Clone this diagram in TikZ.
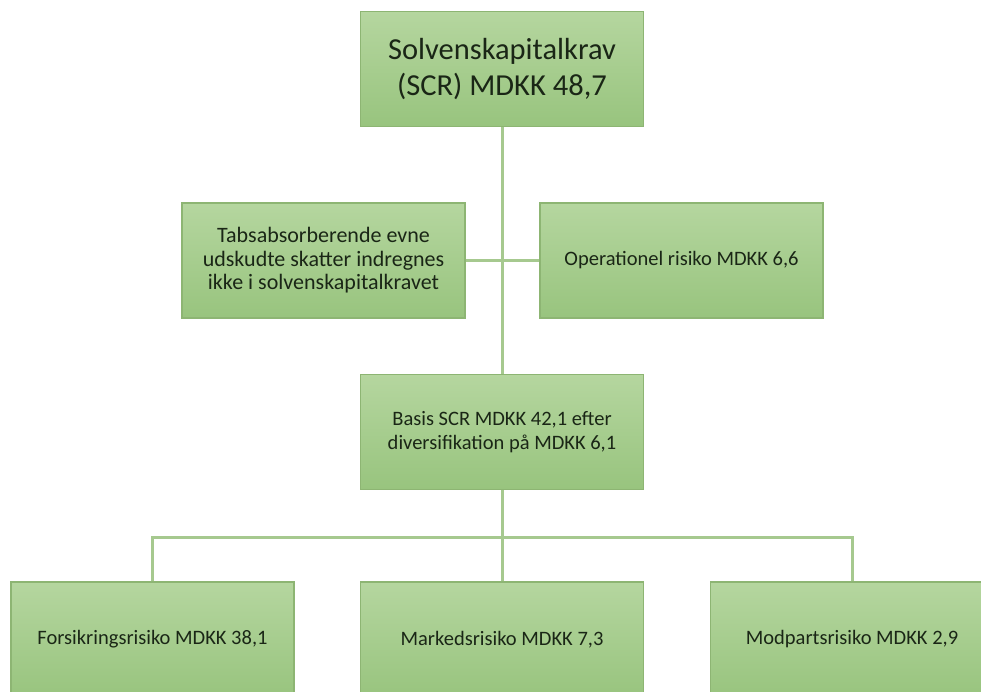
\documentclass[tikz,border=0pt]{standalone}
\usepackage{fontspec}
\setmainfont{Carlito}
\definecolor{boxtop}{HTML}{B5D69F}
\definecolor{boxbot}{HTML}{98C47E}
\definecolor{boxline}{HTML}{8DB573}
\definecolor{conn}{HTML}{A6C98F}
\definecolor{txt}{HTML}{1A2616}
\begin{document}
\begin{tikzpicture}[x=1pt,y=-1pt,
  box/.style={draw=boxline, line width=1.2pt, top color=boxtop, bottom color=boxbot,
    minimum width=283pt, minimum height=115pt, inner sep=2pt, align=center,
    text=txt, font=\fontsize{20.5}{24}\selectfont},
  tabsbox/.style={box, font=\fontsize{22}{23.5}\selectfont},
  bigbox/.style={box, font=\fontsize{30.5}{36}\selectfont},
  link/.style={draw=conn, line width=3pt}]
\useasboundingbox (0,0) rectangle (981,692);
\clip (0,0) rectangle (981,692);
\fill[white] (0,0) rectangle (981,692);
\node[bigbox] (top) at (502,69) {Solvenskapitalkrav\\(SCR) MDKK 48,7};
\node[tabsbox] (tabs) at (323.5,260.5) {Tabsabsorberende evne\\udskudte skatter indregnes\\ikke i solvenskapitalkravet};
\node[box] (oper) at (681.5,260.5) {Operationel risiko MDKK 6,6};
\node[box] (basis) at (502,432) {Basis SCR MDKK 42,1 efter\\diversifikation på MDKK 6,1};
\node[box] (fors) at (152.5,639.5) {Forsikringsrisiko MDKK 38,1};
\node[box] (mark) at (502,639.5) {Markedsrisiko MDKK 7,3};
\node[box] (modp) at (852,639.5) {Modpartsrisiko MDKK 2,9};
\coordinate (busl) at (152.5,537);
\path[link] (top.south) -- (basis.north);
\path[link] (tabs.east) -- (oper.west);
\path[link] (basis.south) -- (mark.north);
\path[link] (fors.north) -- (busl) -| (modp.north);
\end{tikzpicture}
\end{document}
